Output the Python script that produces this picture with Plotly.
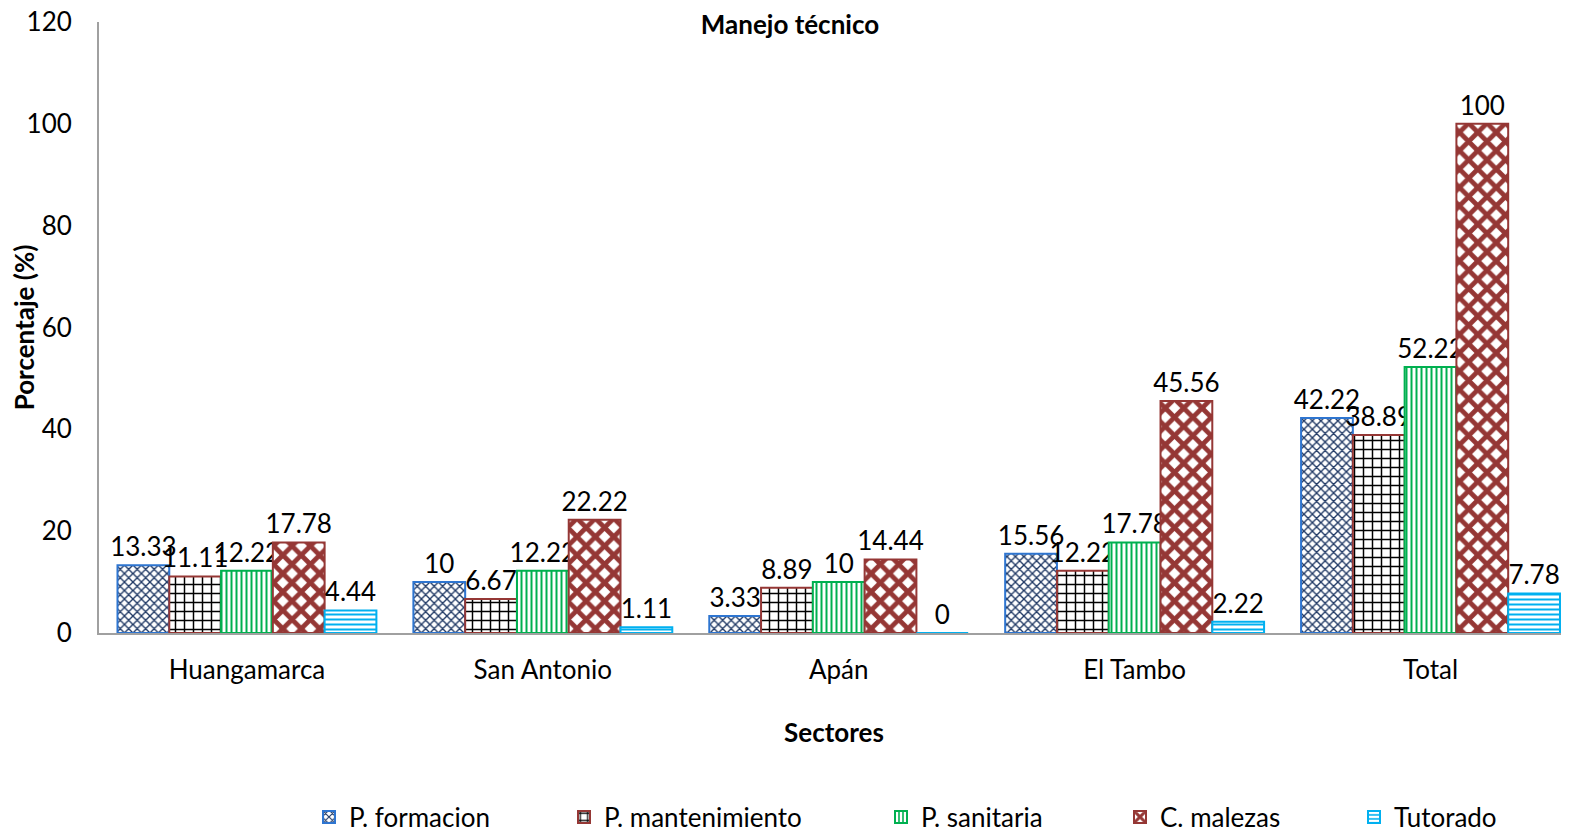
import plotly.graph_objects as go

sectores = ["Huangamarca", "San Antonio", "Apán", "El Tambo", "Total"]
series_names = ["P. formacion", "P. mantenimiento", "P. sanitaria", "C. malezas", "Tutorado"]
p_formacion = [13.33, 10, 3.33, 15.56, 42.22]
p_mantenimiento = [11.11, 6.67, 8.89, 12.22, 38.89]
p_sanitaria = [12.22, 12.22, 10, 17.78, 52.22]
c_malezas = [17.78, 22.22, 14.44, 45.56, 100]
tutorado = [4.44, 1.11, 0, 2.22, 7.78]
y_ticks = [0, 20, 40, 60, 80, 100, 120]

values = [p_formacion, p_mantenimiento, p_sanitaria, c_malezas, tutorado]
styles = [
    dict(shape="x", fg="#1F3864", line="#2E75D0", size=6, sol=0.4),
    dict(shape="+", fg="#000000", line="#953735", size=9, sol=0.3),
    dict(shape="|", fg="#00B050", line="#00B050", size=5, sol=0.4),
    dict(shape="x", fg="#953735", line="#953735", size=13, sol=0.6),
    dict(shape="-", fg="#00B0F0", line="#00B0F0", size=5, sol=0.4),
]
legend_text_x = [349, 604, 921, 1160, 1394]

FONT = "Lato"
FS = 26
OFF = 8  # page body margin
W, H = 1569 - OFF, 835 - OFF


def cx(px):
    return (px - OFF) / W


def cy(py):
    return 1 - (py - OFF) / H


fig = go.Figure()
for i, (name, vals, st) in enumerate(zip(series_names, values, styles)):
    lg = "legend" if i == 0 else f"legend{i + 1}"
    fig.add_trace(go.Bar(
        x=sectores, y=vals, name=name, legend=lg,
        text=[f"{v:g}" for v in vals],
        textposition="outside",
        textfont=dict(family=FONT, size=FS, color="#000"),
        constraintext="none",
        cliponaxis=False,
        marker=dict(
            color="white",
            line=dict(color=st["line"], width=2),
            pattern=dict(shape=st["shape"], fgcolor=st["fg"], bgcolor="white",
                         size=st["size"], solidity=st["sol"], fillmode="replace"),
        ),
    ))

legends = {}
for i, tx in enumerate(legend_text_x):
    key = "legend" if i == 0 else f"legend{i + 1}"
    legends[key] = dict(orientation="h", xref="container", yref="container",
                        x=cx(tx - 40), xanchor="left", y=cy(817), yanchor="middle",
                        font=dict(family=FONT, size=FS, color="#000"), itemwidth=30,
                        bgcolor="rgba(0,0,0,0)")

fig.update_layout(
    width=W, height=H,
    margin=dict(l=99 - OFF, r=0, t=22 - OFF, b=H - (633 - OFF), autoexpand=False),
    paper_bgcolor="white", plot_bgcolor="white",
    barmode="group", bargap=0.125, bargroupgap=0,
    font=dict(family=FONT, size=FS, color="#000"),
    title=dict(text="<b>Manejo técnico</b>", x=cx(790), xanchor="center", xref="container",
               y=cy(25), yanchor="middle", yref="container",
               font=dict(family=FONT, size=FS, color="#000"), automargin=False),
    showlegend=True,
    **legends,
)
fig.update_xaxes(
    range=[-0.5, 4.468], showline=True, linecolor="#A0A0A0", linewidth=2,
    showgrid=False, ticks="", ticklabelstandoff=13, automargin=False,
    tickfont=dict(family=FONT, size=FS, color="#000"),
    title=dict(text="<b>Sectores</b>", font=dict(family=FONT, size=FS, color="#000"), standoff=40),
)
fig.update_yaxes(
    range=[0, 120], tickvals=y_ticks, showline=True, linecolor="#A0A0A0", linewidth=2,
    showgrid=False, zeroline=False, ticks="", ticklabelstandoff=20, automargin=False,
    ticklabeloverflow="allow",
    tickfont=dict(family=FONT, size=FS, color="#000"),
    title=dict(text="<b>Porcentaje (%)</b>", font=dict(family=FONT, size=FS, color="#000"), standoff=5),
)

fig.write_html("out.html")
